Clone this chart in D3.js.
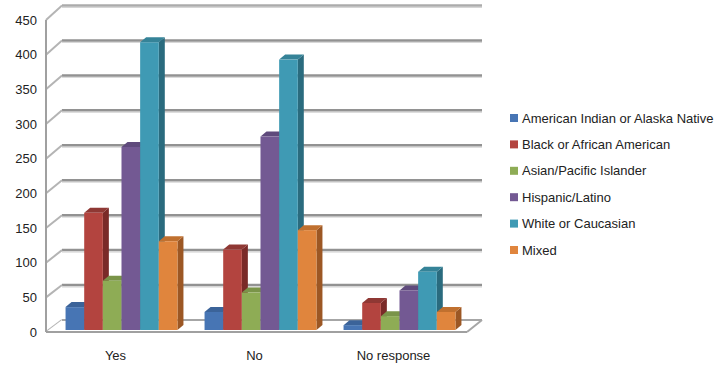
<!DOCTYPE html>
<html>
<head>
<meta charset="utf-8">
<script src="https://cdn.jsdelivr.net/npm/d3@7"></script>
<style>
  html, body { margin: 0; padding: 0; background: #fff; }
  svg { display: block; font-family: "Liberation Sans", Arial, sans-serif; }
</style>
</head>
<body>
<svg id="chart" width="716" height="366"></svg>
<script>
// Responses grouped by answer, one bar per race/ethnicity
const categories = ["Yes", "No", "No response"];
const seriesNames = [
  "American Indian or Alaska Native",
  "Black or African American",
  "Asian/Pacific Islander",
  "Hispanic/Latino",
  "White or Caucasian",
  "Mixed"
];
const americanIndian = [33, 26, 7];
const black = [169, 116, 39];
const asian = [71, 54, 20];
const hispanic = [264, 279, 57];
const white = [415, 390, 84];
const mixed = [128, 144, 26];
const yTicks = [0, 50, 100, 150, 200, 250, 300, 350, 400, 450];

const seriesValues = [americanIndian, black, asian, hispanic, white, mixed];
const frontColors = ["#4775b4", "#b3443f", "#8eac55", "#735993", "#3f9ab4", "#e0853d"];
const sideColors  = ["#2d5288", "#7a2a28", "#5f7a33", "#4d3a66", "#2a6b7e", "#9c5724"];
const topColors   = ["#3b6399", "#8f3834", "#7a9449", "#5f4a7c", "#358398", "#c0702f"];

const svg = d3.select("#chart");

// Wall geometry: front plane and back plane of the 3-D box
const frontLeft = 46, frontRight = 467;
const backLeft = 62, backRight = 482;
const yFront = d3.scaleLinear().domain([0, 450]).range([332, 20]);
const yBack = d3.scaleLinear().domain([0, 450]).range([320, 5.5]);
// Bars stand between the two planes
const yBar = d3.scaleLinear().domain([0, 450]).range([330, 18]);

const x0 = d3.scaleBand().domain(categories).range([52, 469])
  .paddingInner(0.195).paddingOuter(0.0975);
const x1 = d3.scaleBand().domain(d3.range(seriesNames.length))
  .range([0, x0.bandwidth()]);

const depthX = 6, depthY = -5;

// Back wall gridlines
const grid = svg.append("g");
grid.selectAll("line.shadow").data(yTicks.filter(d => d > 0)).join("line")
  .attr("x1", backLeft).attr("x2", backRight)
  .attr("y1", d => yBack(d) + 2).attr("y2", d => yBack(d) + 2)
  .attr("stroke", "#d6d6d6").attr("stroke-width", 1);
grid.selectAll("line.g").data(yTicks.filter(d => d > 0)).join("line")
  .attr("x1", backLeft).attr("x2", backRight)
  .attr("y1", d => yBack(d)).attr("y2", d => yBack(d))
  .attr("stroke", d => d === 450 ? "#ababab" : "#929292").attr("stroke-width", 2.5);

// Side wall edges from each tick on the front axis back to its gridline
grid.selectAll("line.side").data(yTicks).join("line")
  .attr("x1", frontLeft).attr("y1", d => yFront(d))
  .attr("x2", backLeft).attr("y2", d => yBack(d))
  .attr("stroke", "#b4b4b4").attr("stroke-width", 2);

// Floor
const floor = svg.append("g");
floor.append("path")
  .attr("d", `M${frontLeft},${yFront(0)} L${frontRight},${yFront(0)} L${backRight},${yBack(0)} L${backLeft},${yBack(0)} Z`)
  .attr("fill", "#fff").attr("stroke", "none");
floor.append("line")
  .attr("x1", backLeft).attr("x2", backRight)
  .attr("y1", yBack(0)).attr("y2", yBack(0))
  .attr("stroke", "#a6a6a6").attr("stroke-width", 2);
floor.append("line")
  .attr("x1", frontRight).attr("y1", yFront(0))
  .attr("x2", backRight).attr("y2", yBack(0))
  .attr("stroke", "#a6a6a6").attr("stroke-width", 2);

// Bars (drawn left to right so each front face hides its neighbour's side)
const bars = svg.append("g");
categories.forEach((cat, ci) => {
  seriesValues.forEach((vals, si) => {
    const v = vals[ci];
    const xl = x0(cat) + x1(si);
    const xr = xl + x1.bandwidth();
    const yt = yBar(v), yb = yBar(0);
    const g = bars.append("g");
    g.append("path")
      .attr("d", `M${xr},${yt} L${xr + depthX},${yt + depthY} L${xr + depthX},${yb + depthY} L${xr},${yb} Z`)
      .attr("fill", sideColors[si]);
    g.append("path")
      .attr("d", `M${xl},${yt} L${xl + depthX},${yt + depthY} L${xr + depthX},${yt + depthY} L${xr},${yt} Z`)
      .attr("fill", topColors[si]);
    g.append("rect")
      .attr("x", xl).attr("y", yt)
      .attr("width", x1.bandwidth()).attr("height", yb - yt)
      .attr("fill", frontColors[si]);
  });
});

// Front axis and floor edge
svg.append("line")
  .attr("x1", frontLeft).attr("x2", frontLeft)
  .attr("y1", yFront(450)).attr("y2", yFront(0))
  .attr("stroke", "#a0a0a0").attr("stroke-width", 2);
svg.append("line")
  .attr("x1", frontLeft).attr("x2", frontRight)
  .attr("y1", yFront(0)).attr("y2", yFront(0))
  .attr("stroke", "#a0a0a0").attr("stroke-width", 2);

// Value axis labels
const yAxis = d3.axisLeft(yFront).tickValues(yTicks).tickSize(0).tickPadding(9);
svg.append("g").attr("transform", `translate(${frontLeft},0)`).call(yAxis)
  .call(g => g.select(".domain").remove())
  .selectAll("text").attr("font-size", 13).attr("fill", "#222")
  .attr("font-family", "'Liberation Sans', Arial, sans-serif");

// Category labels
svg.append("g").selectAll("text").data(categories).join("text")
  .attr("x", d => x0(d) + x0.bandwidth() / 2 - 6)
  .attr("y", 360)
  .attr("text-anchor", "middle")
  .attr("font-size", 13).attr("fill", "#222")
  .text(d => d);

// Legend
const legend = svg.append("g").attr("transform", "translate(510,118)");
const item = legend.selectAll("g").data(seriesNames).join("g")
  .attr("transform", (d, i) => `translate(0,${i * 26.4})`);
item.append("rect").attr("x", 0).attr("y", -4).attr("width", 8).attr("height", 8)
  .attr("fill", (d, i) => frontColors[i]);
item.append("text").attr("x", 12).attr("y", 4.5)
  .attr("font-size", 13).attr("fill", "#222")
  .text(d => d);
</script>
</body>
</html>
